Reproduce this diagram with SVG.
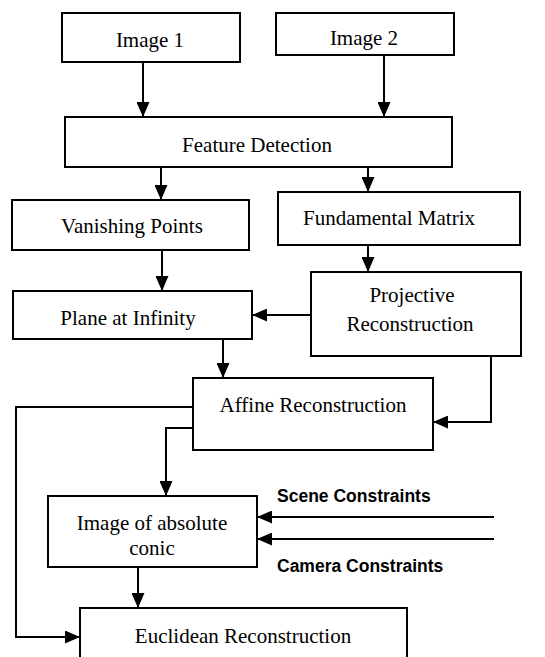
<svg xmlns="http://www.w3.org/2000/svg" width="545" height="657" viewBox="0 0 545 657">
<defs>
<marker id="ah" viewBox="0 0 15 13" refX="15" refY="6.5" markerWidth="15" markerHeight="13" markerUnits="userSpaceOnUse" orient="auto">
<path d="M0,0 L15,6.5 L0,13 Z" fill="#000"/>
</marker>
</defs>
<style>
rect{fill:#fff;stroke:#000;stroke-width:2}
text{font-family:"Liberation Serif","Times New Roman",serif;font-size:21px;fill:#000;text-anchor:middle}
text.lbl{font-family:"Liberation Sans",Arial,sans-serif;font-weight:bold;font-size:17.5px;text-anchor:start}
.c path{fill:none;stroke:#000;stroke-width:2;marker-end:url(#ah)}
</style>
<rect x="0" y="0" width="545" height="657" style="fill:#fff;stroke:none"/>
<g id="image1"><rect x="62" y="13" width="178" height="49"/><text x="150" y="47">Image 1</text></g>
<g id="image2"><rect x="276" y="13" width="178" height="42"/><text x="364" y="45">Image 2</text></g>
<g id="feature"><rect x="65" y="117" width="387" height="50"/><text x="257" y="152">Feature Detection</text></g>
<g id="vanishing"><rect x="12" y="200" width="237" height="50"/><text x="132" y="233">Vanishing Points</text></g>
<g id="fundamental"><rect x="278" y="192" width="242" height="53"/><text x="389" y="225">Fundamental Matrix</text></g>
<g id="projective"><rect x="311" y="272" width="210" height="84"/><text x="412" y="302">Projective</text><text x="410" y="331">Reconstruction</text></g>
<g id="plane"><rect x="13" y="291" width="239" height="48"/><text x="128" y="325">Plane at Infinity</text></g>
<g id="affine"><rect x="193" y="378" width="240" height="72"/><text x="313" y="412">Affine Reconstruction</text></g>
<g id="iac"><rect x="48" y="496" width="209" height="71"/><text x="152" y="530">Image of absolute</text><text x="152" y="555">conic</text></g>
<g id="euclid"><rect x="80" y="608" width="327" height="60"/><text x="243" y="643">Euclidean Reconstruction</text></g>
<g id="labels"><text class="lbl" x="277" y="502">Scene Constraints</text><text class="lbl" x="277" y="572">Camera Constraints</text></g>
<g class="c" id="connectors">
<path d="M143,62 V117"/>
<path d="M384,55 V117"/>
<path d="M161,167 V200"/>
<path d="M368,167 V192"/>
<path d="M162,250 V291"/>
<path d="M368,245 V272"/>
<path d="M311,315 H252"/>
<path d="M223,339 V378"/>
<path d="M491,356 V422 H433"/>
<path d="M193,407 H16 V637 H80"/>
<path d="M193,428 H166 V496"/>
<path d="M494,517 H257"/>
<path d="M494,539 H257"/>
<path d="M138,567 V608"/>
</g>
</svg>
